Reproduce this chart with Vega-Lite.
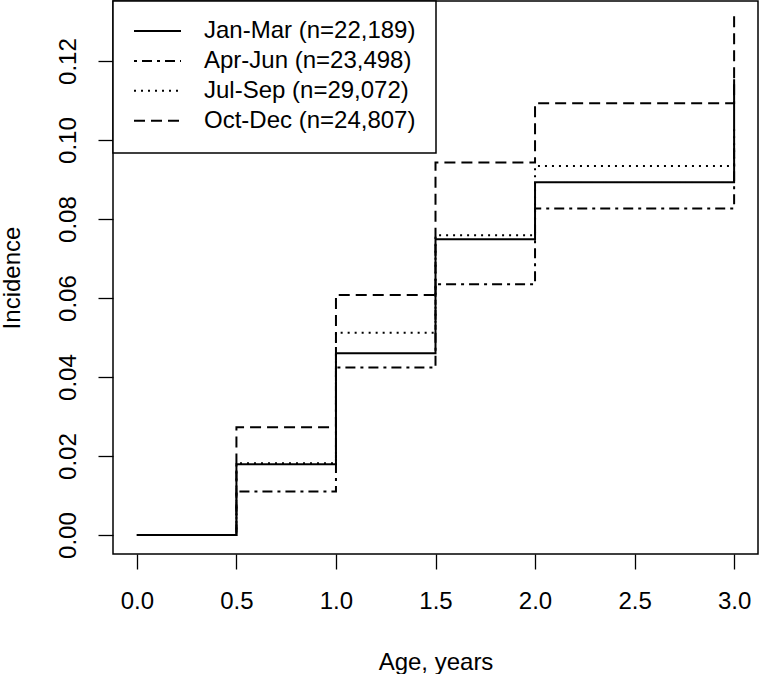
{
  "$schema": "https://vega.github.io/schema/vega-lite/v6.json",
  "width": 645,
  "height": 553,
  "autosize": {"type": "none"},
  "padding": {"left": 113, "top": 1, "right": 1, "bottom": 120},
  "background": "white",
  "config": {
    "font": "Liberation Sans",
    "view": {"stroke": "black", "strokeWidth": 1.5},
    "axis": {
      "grid": false,
      "domain": false,
      "tickColor": "black",
      "tickWidth": 1.3,
      "tickSize": 15,
      "labelFont": "Liberation Sans",
      "labelFontSize": 24,
      "labelColor": "black",
      "labelFlush": false,
      "labelOverlap": false,
      "titleFont": "Liberation Sans",
      "titleFontSize": 24,
      "titleFontWeight": "normal",
      "titleColor": "black"
    },
    "legend": {
      "orient": "top-left",
      "offset": 0,
      "padding": 20,
      "strokeColor": "black",
      "fillColor": "white",
      "strokeWidth": 1.5,
      "symbolType": "stroke",
      "symbolSize": 2209,
      "symbolStrokeWidth": 2,
      "symbolStrokeColor": "black",
      "labelFont": "Liberation Sans",
      "labelFontSize": 24,
      "labelColor": "black",
      "labelOffset": 22,
      "labelLimit": 400,
      "clipHeight": 20,
      "rowPadding": 5.9,
      "title": null
    }
  },
  "data": {
    "values": [
      {"season": "Jan-Mar (n=22,189)", "age": 0, "incidence": 0},
      {"season": "Jan-Mar (n=22,189)", "age": 0.5, "incidence": 0.0179},
      {"season": "Jan-Mar (n=22,189)", "age": 1, "incidence": 0.046},
      {"season": "Jan-Mar (n=22,189)", "age": 1.5, "incidence": 0.0749},
      {"season": "Jan-Mar (n=22,189)", "age": 2, "incidence": 0.0893},
      {"season": "Jan-Mar (n=22,189)", "age": 3, "incidence": 0.1154},
      {"season": "Apr-Jun (n=23,498)", "age": 0, "incidence": 0},
      {"season": "Apr-Jun (n=23,498)", "age": 0.5, "incidence": 0.011},
      {"season": "Apr-Jun (n=23,498)", "age": 1, "incidence": 0.0424},
      {"season": "Apr-Jun (n=23,498)", "age": 1.5, "incidence": 0.0635},
      {"season": "Apr-Jun (n=23,498)", "age": 2, "incidence": 0.0827},
      {"season": "Apr-Jun (n=23,498)", "age": 3, "incidence": 0.098},
      {"season": "Jul-Sep (n=29,072)", "age": 0, "incidence": 0},
      {"season": "Jul-Sep (n=29,072)", "age": 0.5, "incidence": 0.0182},
      {"season": "Jul-Sep (n=29,072)", "age": 1, "incidence": 0.0512},
      {"season": "Jul-Sep (n=29,072)", "age": 1.5, "incidence": 0.0759},
      {"season": "Jul-Sep (n=29,072)", "age": 2, "incidence": 0.0934},
      {"season": "Jul-Sep (n=29,072)", "age": 3, "incidence": 0.104},
      {"season": "Oct-Dec (n=24,807)", "age": 0, "incidence": 0},
      {"season": "Oct-Dec (n=24,807)", "age": 0.5, "incidence": 0.0273},
      {"season": "Oct-Dec (n=24,807)", "age": 1, "incidence": 0.0608},
      {"season": "Oct-Dec (n=24,807)", "age": 1.5, "incidence": 0.0943},
      {"season": "Oct-Dec (n=24,807)", "age": 2, "incidence": 0.1093},
      {"season": "Oct-Dec (n=24,807)", "age": 3, "incidence": 0.1325}
    ]
  },
  "mark": {"type": "line", "interpolate": "step-after", "color": "black", "strokeWidth": 2, "clip": true},
  "encoding": {
    "x": {
      "field": "age",
      "type": "quantitative",
      "scale": {"domain": [-0.12, 3.12], "nice": false, "zero": false},
      "axis": {
        "title": "Age, years",
        "values": [0, 0.5, 1, 1.5, 2, 2.5, 3],
        "format": ".1f",
        "labelPadding": 20,
        "titlePadding": 37
      }
    },
    "y": {
      "field": "incidence",
      "type": "quantitative",
      "scale": {"domain": [-0.0048, 0.1352], "nice": false, "zero": false},
      "axis": {
        "title": "Incidence",
        "values": [0, 0.02, 0.04, 0.06, 0.08, 0.1, 0.12],
        "format": ".2f",
        "labelAngle": 270,
        "labelAlign": "center",
        "labelBaseline": "bottom",
        "labelPadding": 18,
        "titlePadding": 32
      }
    },
    "strokeDash": {
      "field": "season",
      "type": "nominal",
      "sort": ["Jan-Mar (n=22,189)", "Apr-Jun (n=23,498)", "Jul-Sep (n=29,072)", "Oct-Dec (n=24,807)"],
      "scale": {
        "domain": ["Jan-Mar (n=22,189)", "Apr-Jun (n=23,498)", "Jul-Sep (n=29,072)", "Oct-Dec (n=24,807)"],
        "range": [[1, 0], [3, 5, 10, 5], [2, 5], [11, 6]]
      },
      "legend": {"title": null}
    }
  }
}
